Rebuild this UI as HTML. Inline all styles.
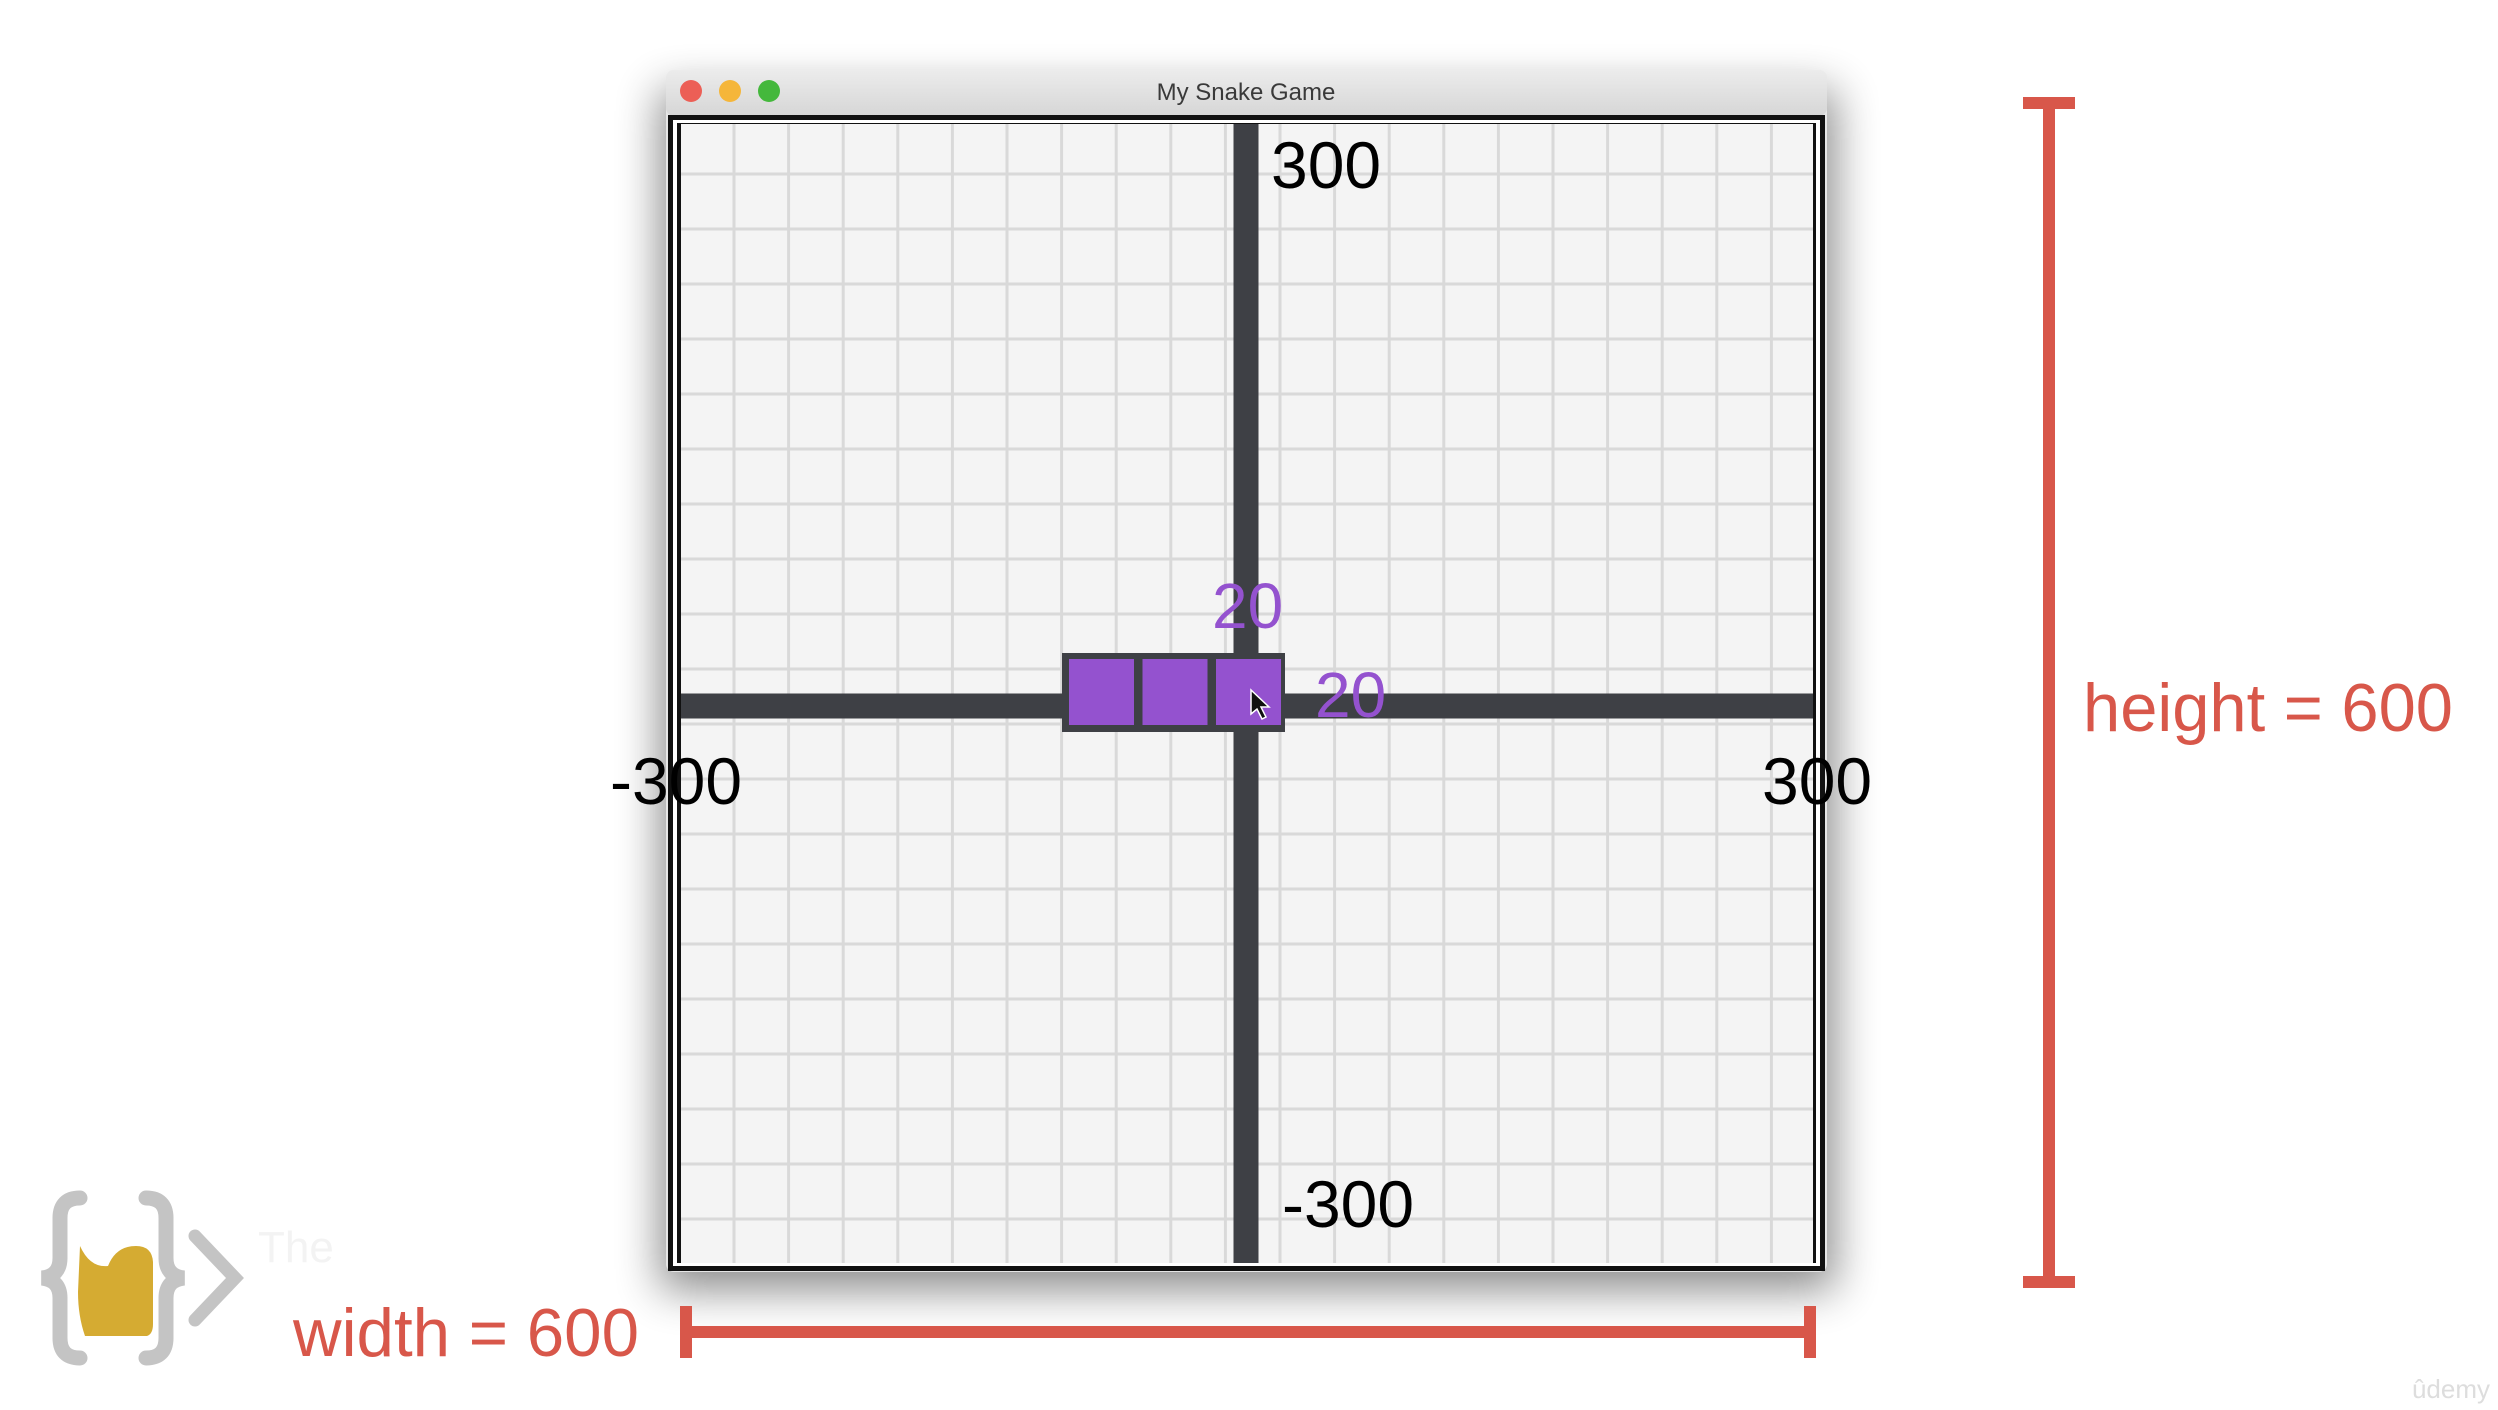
<!DOCTYPE html>
<html><head><meta charset="utf-8"><style>
html,body{margin:0;padding:0;background:#fff;}
body{width:2498px;height:1410px;overflow:hidden;position:relative;font-family:"Liberation Sans",sans-serif;}
svg{position:absolute;left:0;top:0;}
</style></head><body>
<svg width="2498" height="1410" viewBox="0 0 2498 1410">
<defs>
<filter id="sh" x="-20%" y="-20%" width="140%" height="140%"><feGaussianBlur stdDeviation="22"/></filter>
<linearGradient id="tb" x1="0" y1="0" x2="0" y2="1"><stop offset="0" stop-color="#ececec"/><stop offset="1" stop-color="#d6d6d6"/></linearGradient>
</defs>
<rect x="660" y="90" width="1175" height="1200" fill="#000" opacity="0.45" filter="url(#sh)"/>
<g>
<rect x="666" y="70" width="1161" height="1202" fill="#e6e6e6" rx="8"/>
<rect x="666" y="70" width="1161" height="46" fill="url(#tb)" rx="8"/>
<circle cx="691" cy="91" r="11" fill="#ec5f56"/>
<circle cx="730" cy="91" r="11" fill="#f5b63a"/>
<circle cx="769" cy="91" r="11" fill="#44b83c"/>
<text x="1246" y="100" font-size="24" fill="#3a3a3a" text-anchor="middle">My Snake Game</text>
<rect x="668" y="115" width="1157" height="1156" fill="#111"/>
<rect x="673" y="120" width="1147" height="1146" fill="#fff"/>
<rect x="677" y="123" width="1139" height="1140" fill="#111"/>
<rect x="681" y="124" width="1132" height="1139" fill="#f4f4f4"/>
<g id="grid"></g>
<g id="marks"></g>
</g>
<g>
<rect x="685" y="1326" width="1126" height="12" fill="#d8574a"/>
<rect x="680" y="1306" width="12" height="52" fill="#d8574a"/>
<rect x="1804" y="1306" width="12" height="52" fill="#d8574a"/>
<text x="293" y="1356" font-size="68" fill="#d8574a" textLength="346" lengthAdjust="spacingAndGlyphs">width = 600</text>
</g>
<g>
<rect x="2043" y="100" width="12" height="1185" fill="#d8574a"/>
<rect x="2023" y="97" width="52" height="12" fill="#d8574a"/>
<rect x="2023" y="1276" width="52" height="12" fill="#d8574a"/>
<text x="2083" y="731" font-size="68" fill="#d8574a" textLength="370" lengthAdjust="spacingAndGlyphs">height = 600</text>
</g>
<g>
<path d="M80 1198 q-20 0 -20 20 v40 q0 18 -18 20 q18 2 18 20 v40 q0 20 20 20" fill="none" stroke="#c4c4c4" stroke-width="15" stroke-linecap="round"/>
<path d="M146 1198 q20 0 20 20 v40 q0 18 18 20 q-18 2 -18 20 v40 q0 20 -20 20" fill="none" stroke="#c4c4c4" stroke-width="15" stroke-linecap="round"/>
<path d="M195 1236 l40 42 l-40 42" fill="none" stroke="#c4c4c4" stroke-width="13" stroke-linecap="round"/>
<path d="M80 1246 q10 22 28 20 q8 -20 28 -20 q16 0 17 16 v62 q0 10 -6 12 h-62 q-7 -20 -7 -44 z" fill="#d5ab32"/>
<text x="258" y="1262" font-size="44" fill="#f3f3f3">The</text>
</g>
<text x="2490" y="1398" font-size="26" fill="#ddd" text-anchor="end">ûdemy</text>
</svg>
<script>
const axisLabels = ["300", "-300", "300", "-300"];
const segmentXs = [-2, -1, 0];
const sizeLabels = ["20", "20"];
const NS = "http://www.w3.org/2000/svg";
const grid = document.getElementById("grid");
const marks = document.getElementById("marks");
function mk(tag, attrs, parent){const e=document.createElementNS(NS,tag);for(const k in attrs)e.setAttribute(k,attrs[k]);parent.appendChild(e);return e;}
for(let x=734-54.6*1; x<1813; x+=54.6){ if(x<681) continue;
  const l=mk("rect",{x:x-1.5,y:124,width:3,height:1139,fill:"#d9d9d9"},grid);
  
  
}
for(let y=174-55*1; y<1263; y+=55){ if(y<124) continue;
  const l=mk("rect",{x:681,y:y-1.5,width:1132,height:3,fill:"#d9d9d9"},grid);
  
  
}
const cx=1246, cy=706, unit=73.5;
function sx(v){return cx + v*unit;}
const va=mk("rect",{x:cx-12.5,y:124,width:25,height:1139,fill:"#3e4045"},marks);


const ha=mk("rect",{x:681,y:cy-12.5,width:1132,height:25,fill:"#3e4045"},marks);


const x0=sx(segmentXs[0])-37, x1=sx(segmentXs[segmentXs.length-1])+39;
const sb=mk("rect",{x:x0,y:653,width:x1-x0,height:79,fill:"#3e4045"},marks);


segmentXs.forEach(v=>{
  const r=mk("rect",{x:sx(v)-30,y:659,width:65,height:66,fill:"#9452cf"},marks);
  
  
});
const cur=mk("path",{d:"M1251 690 l0 24 l6 -5 l5 10 l4 -2 l-5 -10 l8 0 z",fill:"#111",stroke:"#fff","stroke-width":"1.5"},marks);


const lp=[[1271,188],[610,804],[1762,804],[1282,1227]];
const ln=['y-max-label','x-min-label','x-max-label','y-min-label'];
axisLabels.forEach((t,i)=>{
  const e=mk("text",{x:lp[i][0],y:lp[i][1],"font-size":"66",fill:"#000"},marks);
  e.textContent=t;
  
  
});
const s1=mk("text",{x:1212,y:628,"font-size":"64",fill:"#9452cf"},marks);
s1.textContent=sizeLabels[0];


const s2=mk("text",{x:1315,y:717,"font-size":"64",fill:"#9452cf"},marks);
s2.textContent=sizeLabels[1];


</script>
</body></html>
